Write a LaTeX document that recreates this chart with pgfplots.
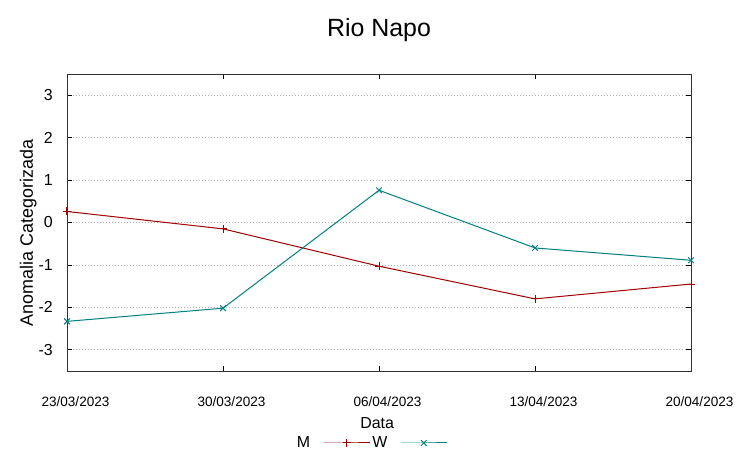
\documentclass[border=0pt]{standalone}
\usepackage{fontspec}
\setmainfont{Liberation Sans}
\usepackage{pgfplots}
\pgfplotsset{compat=1.18}
\definecolor{mred}{RGB}{160,0,0}
\definecolor{wteal}{RGB}{0,128,128}
\begin{document}
\begin{tikzpicture}
\begin{axis}[
  scale only axis, width=624bp, height=297bp,
  xmin=0, xmax=4, ymin=-3.5, ymax=3.5,
  xtick={0,1,2,3,4},
  xticklabels={23/03/2023,30/03/2023,06/04/2023,13/04/2023,20/04/2023},
  ytick={-3,-2,-1,0,1,2,3},
  tick align=inside, tick pos=both, major tick length=5bp,
  tick style={black, line width=0.8bp},
  axis line style={black!80, line width=0.9bp},
  ymajorgrids,
  grid style={gray!60, dash pattern=on 1.5bp off 1.5bp, line width=0.8bp},
  /pgf/number format/assume math mode=true,
  x tick label style={font=\fontsize{13.6}{14}\selectfont, anchor=base, inner sep=0pt, yshift=-35.5bp, xshift=8.5bp},
  y tick label style={font=\fontsize{16}{17}\selectfont, anchor=east, inner sep=0pt, xshift=-14bp},
  title={Rio Napo},
  every axis title shift=0pt,
  title style={font=\fontsize{25}{28}\selectfont, at={([yshift=37bp]axis description cs:0.5,1)}, anchor=base, inner sep=0pt},
  xlabel={Data},
  xlabel style={font=\fontsize{16}{18}\selectfont, at={([yshift=-57bp]axis description cs:0.497,0)}, anchor=base, inner sep=0pt},
  ylabel={Anomalia Categorizada},
  ylabel style={font=\fontsize{18}{20}\selectfont, at={([xshift=-34bp]axis description cs:0,0.465)}, anchor=base, inner sep=0pt},
  legend columns=2,
  legend plot pos=right,
  legend image code/.code={\draw[mark repeat=2,mark phase=2,#1] plot coordinates {(0bp,0bp) (23bp,0bp) (46bp,0bp)};},
  legend style={at={(axis description cs:0.489,-0.2424)}, anchor=center, draw=none, fill=none,
    font=\fontsize{16}{18}\selectfont, nodes={inner sep=0pt}, column sep=0pt,
    /tikz/every odd column/.append style={column sep=13bp},
    /tikz/every even column/.append style={column sep=2bp}},
]
\addplot[mred, line width=1bp, mark=+, mark size=4bp] coordinates {(0,0.26) (1,-0.15) (2,-1.03) (3,-1.80) (4,-1.45)};
\addlegendentry{M}
\addplot[wteal, line width=1bp, mark=x, mark size=4bp] coordinates {(0,-2.33) (1,-2.02) (2,0.76) (3,-0.60) (4,-0.89)};
\addlegendentry{W}
\end{axis}
\pgfresetboundingbox
\path ([shift={(-67bp,-88bp)}]current axis.south west) rectangle ([shift={(686bp,371bp)}]current axis.south west);
\end{tikzpicture}
\end{document}
